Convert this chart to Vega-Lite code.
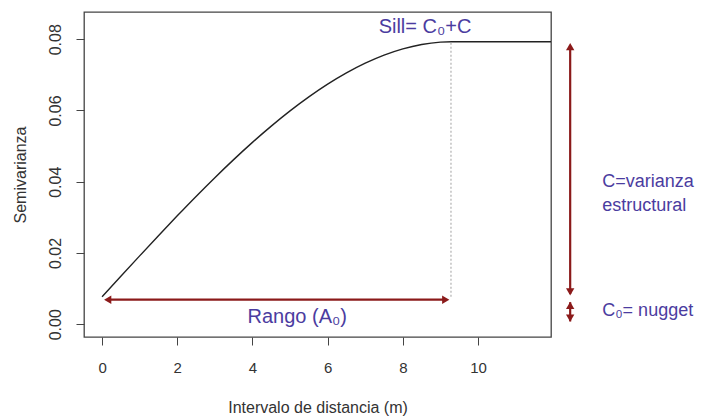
{
  "$schema": "https://vega.github.io/schema/vega-lite/v6.json",
  "width": 467,
  "height": 325,
  "autosize": "none",
  "padding": {"left": 84, "top": 12, "right": 161, "bottom": 83},
  "background": "white",
  "config": {
    "view": {"stroke": "#444444", "strokeWidth": 1.3},
    "font": "Liberation Sans",
    "axis": {"grid": false, "domain": false, "tickColor": "#444444", "tickSize": 8, "labelColor": "#333333", "titleColor": "#333333", "labelFont": "Liberation Sans", "titleFont": "Liberation Sans", "titleFontWeight": "normal", "labelFontSize": 15, "titleFontSize": 16}
  },
  "layer": [
    {
      "data": {"values": [
        {"h": 0, "g": 0.0077}, {"h": 0.5, "g": 0.01347}, {"h": 1, "g": 0.0192}, {"h": 1.5, "g": 0.02487},
        {"h": 2, "g": 0.03044}, {"h": 2.5, "g": 0.03588}, {"h": 3, "g": 0.04114}, {"h": 3.5, "g": 0.04621},
        {"h": 4, "g": 0.05105}, {"h": 4.5, "g": 0.05561}, {"h": 5, "g": 0.05988}, {"h": 5.5, "g": 0.06381},
        {"h": 6, "g": 0.06738}, {"h": 6.5, "g": 0.07054}, {"h": 7, "g": 0.07327}, {"h": 7.5, "g": 0.07554},
        {"h": 8, "g": 0.0773}, {"h": 8.5, "g": 0.07853}, {"h": 9, "g": 0.07919}, {"h": 9.3, "g": 0.0793},
        {"h": 11.94, "g": 0.0793}
      ]},
      "mark": {"type": "line", "color": "#222222", "strokeWidth": 1.4, "interpolate": "monotone"},
      "encoding": {
        "x": {"field": "h", "type": "quantitative", "scale": {"domain": [-0.48, 11.94], "nice": false, "zero": false},
          "axis": {"values": [0, 2, 4, 6, 8, 10], "title": "Intervalo de distancia (m)", "labelPadding": 15, "titlePadding": 24}},
        "y": {"field": "g", "type": "quantitative", "scale": {"domain": [-0.00357, 0.08764], "nice": false, "zero": false},
          "axis": {"values": [0, 0.02, 0.04, 0.06, 0.08], "format": ".2f", "labelAngle": -90, "labelFontSize": 16, "title": "Semivarianza", "labelPadding": 13, "titlePadding": 19}}
      }
    },
    {
      "data": {"values": [{"x": 9.28, "y1": 0.0077, "y2": 0.0793}]},
      "mark": {"type": "rule", "color": "#b0b0b0", "strokeWidth": 1.2, "strokeDash": [2, 2]},
      "encoding": {
        "x": {"field": "x", "type": "quantitative"},
        "y": {"field": "y1", "type": "quantitative"},
        "y2": {"field": "y2"}
      }
    },
    {
      "data": {"values": [
        {"x1": 0.15, "x2": 9.15, "y1": 0.0069, "y2": 0.0069},
        {"x1": 12.45, "x2": 12.45, "y1": 0.0085, "y2": 0.0782},
        {"x1": 12.45, "x2": 12.45, "y1": 0.0008, "y2": 0.0062}
      ]},
      "mark": {"type": "rule", "color": "#8b1a1a", "strokeWidth": 2.2},
      "encoding": {
        "x": {"field": "x1", "type": "quantitative"},
        "x2": {"field": "x2"},
        "y": {"field": "y1", "type": "quantitative"},
        "y2": {"field": "y2"}
      }
    },
    {
      "data": {"values": [
        {"x": 0.15, "y": 0.0069, "dir": "left"},
        {"x": 9.14, "y": 0.0069, "dir": "right"},
        {"x": 12.45, "y": 0.0779, "dir": "up"},
        {"x": 12.45, "y": 0.0091, "dir": "down"},
        {"x": 12.45, "y": 0.0053, "dir": "up"},
        {"x": 12.45, "y": 0.0017, "dir": "down"}
      ]},
      "mark": {"type": "point", "filled": true, "color": "#8b1a1a", "opacity": 1, "size": 70},
      "encoding": {
        "x": {"field": "x", "type": "quantitative"},
        "y": {"field": "y", "type": "quantitative"},
        "shape": {"field": "dir", "type": "nominal", "legend": null,
          "scale": {"domain": ["left", "right", "up", "down"], "range": ["triangle-left", "triangle-right", "triangle-up", "triangle-down"]}}
      }
    },
    {
      "data": {"values": [
        {"t": "Sill= C₀+C", "x": 8.59, "y": 0.0834},
        {"t": "Rango (A₀)", "x": 5.19, "y": 0.0020}
      ]},
      "mark": {"type": "text", "color": "#4b3ca0", "fontSize": 20, "baseline": "middle", "align": "center", "font": "Liberation Sans"},
      "encoding": {
        "x": {"field": "x", "type": "quantitative"},
        "y": {"field": "y", "type": "quantitative"},
        "text": {"field": "t"}
      }
    },
    {
      "data": {"values": [
        {"t": "C=varianza", "x": 13.3, "y": 0.0399},
        {"t": "estructural", "x": 13.3, "y": 0.0331},
        {"t": "C₀= nugget", "x": 13.3, "y": 0.0037}
      ]},
      "mark": {"type": "text", "color": "#4b3ca0", "fontSize": 18, "baseline": "middle", "align": "left", "font": "Liberation Sans"},
      "encoding": {
        "x": {"field": "x", "type": "quantitative"},
        "y": {"field": "y", "type": "quantitative"},
        "text": {"field": "t"}
      }
    }
  ]
}
